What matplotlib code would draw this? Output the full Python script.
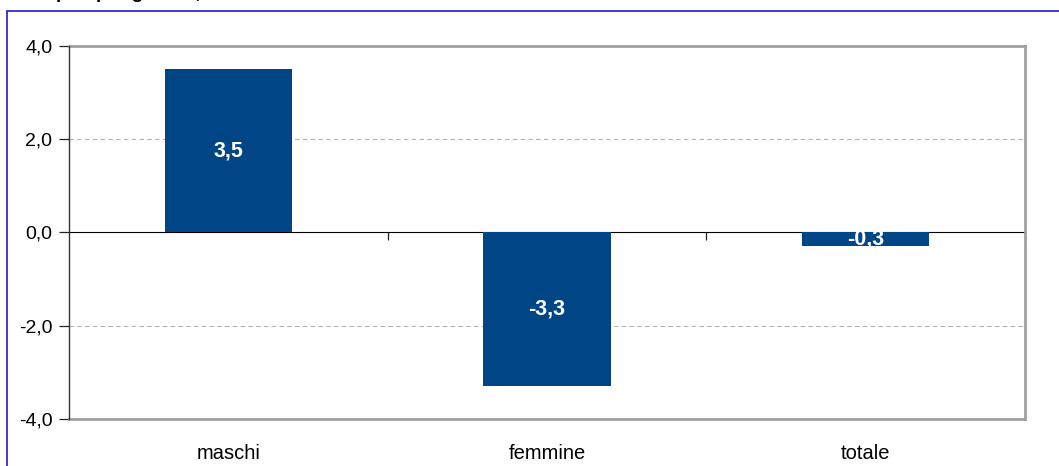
import matplotlib.pyplot as plt
from matplotlib.patches import Rectangle
from matplotlib.ticker import FuncFormatter

# =====================
# DATA
# =====================
categorie = ["maschi", "femmine", "totale"]
valori = [3.5, -3.3, -0.3]
y_ticks = [-4.0, -2.0, 0.0, 2.0, 4.0]

titolo = "Occupati per genere, variazione % 2009 su 2008"

BAR_COLOR = "#004586"
FRAME_GRAY = "#a0a0a0"

plt.rcParams["font.family"] = ["Liberation Sans", "DejaVu Sans"]


def virgola(v, pos=None):
    return f"{v:.1f}".replace(".", ",")


# =====================
# FIGURE
# =====================
W, H = 1059, 466
fig = plt.figure(figsize=(W / 100, H / 100), dpi=100)

# blue outer frame (runs off the right and bottom edges)
fig.patches.append(Rectangle((6.5 / W, -0.1), 1.2, 1 - 10.5 / H + 0.1,
                             transform=fig.transFigure, fill=False,
                             edgecolor="#2b2bdc", linewidth=1.3))

# title, sitting just above the top edge
fig.text(7 / W, 1 + 1.5 / H, titolo, fontsize=14, fontweight="bold",
         ha="left", va="baseline")

ax = fig.add_axes([69 / W, 1 - 419 / H, (1025 - 69) / W, (419 - 46) / H])

x = list(range(len(categorie)))
bars = ax.bar(x, valori, width=0.4, color=BAR_COLOR, zorder=2)

for xi, v in zip(x, valori):
    ax.text(xi, v / 2, virgola(v), color="white", fontsize=15.5,
            fontweight="bold", ha="center", va="center", zorder=3)

ax.set_xlim(-0.5, 2.5)
ax.set_ylim(-4, 4)

# gridlines
for g in [-2, 2]:
    ax.axhline(g, color="#b4b4b4", linewidth=0.8, linestyle=(0, (4, 3)),
               zorder=1)

# y axis
ax.set_yticks(y_ticks)
ax.yaxis.set_major_formatter(FuncFormatter(virgola))
ax.tick_params(axis="y", direction="out", length=7, width=0.9,
               color="#222222", labelsize=14, pad=5)

# x labels at the bottom, no ticks
ax.set_xticks(x)
ax.set_xticklabels(categorie)
ax.tick_params(axis="x", length=0, labelsize=14.5, pad=18)

# frame
for s in ["top", "right", "bottom"]:
    ax.spines[s].set_color(FRAME_GRAY)
    ax.spines[s].set_linewidth(2)
ax.spines["left"].set_color("#333333")
ax.spines["left"].set_linewidth(1)
ax.spines["left"].set_zorder(4)

# zero line with category separator ticks
zero = ax.secondary_xaxis(0.5)
zero.set_xticks([0.5, 1.5, 2.5])
zero.set_xticklabels([])
zero.tick_params(direction="in", length=6, width=0.9, color="#222222")
zero.spines["bottom"].set_color("#111111")
zero.spines["bottom"].set_linewidth(1)

fig.savefig("out.png", dpi=100)
